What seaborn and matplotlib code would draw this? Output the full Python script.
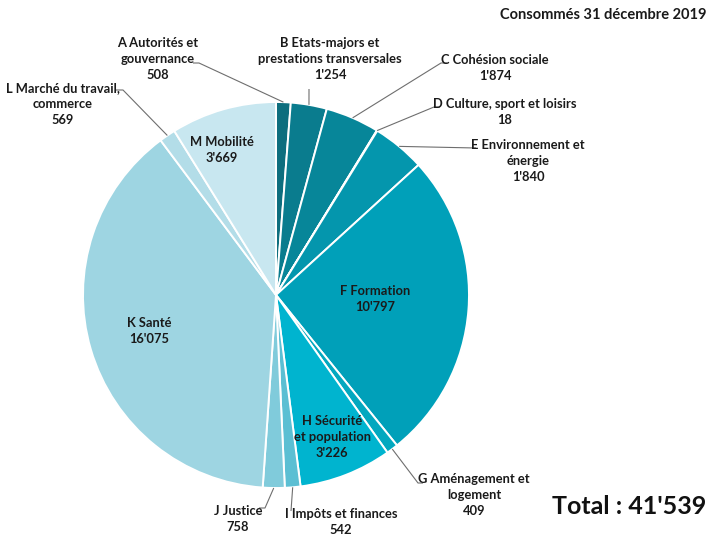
import matplotlib
matplotlib.use("Agg")
import matplotlib.pyplot as plt
import seaborn as sns
import numpy as np

# Budget consumed per policy area (thousands)
categories = [
    "A Autorités et\ngouvernance",
    "B Etats-majors et\nprestations transversales",
    "C Cohésion sociale",
    "D Culture, sport et loisirs",
    "E Environnement et\nénergie",
    "F Formation",
    "G Aménagement et\nlogement",
    "H Sécurité\net population",
    "I Impôts et finances",
    "J Justice",
    "K Santé",
    "L Marché du travail,\ncommerce",
    "M Mobilité",
]
values = [508, 1254, 1874, 18, 1840, 10797, 409, 3226, 542, 758, 16075, 569, 3669]
colors = [
    "#0d6e7e", "#0a7c8e", "#078699", "#0691a7", "#0496ad", "#00a0b9",
    "#03a8bf", "#00b4cf", "#5bbfd3", "#80cbdb", "#9ed5e2", "#b3dde8", "#c8e7f0",
]
title = "Consommés 31 décembre 2019"
total_label = "Total : "


def fmt(v):
    return f"{v:,}".replace(",", "'")


sns.set_theme(style="white")
plt.rcParams["font.family"] = ["Lato", "DejaVu Sans"]

W, H = 712, 535
fig = plt.figure(figsize=(W / 100, H / 100), dpi=100)
ax = fig.add_axes([0, 0, 1, 1])

cx, cy, R = 276, 295, 193
wedges, _ = ax.pie(
    values,
    colors=colors,
    startangle=270,
    counterclock=True,
    center=(cx, cy),
    radius=R,
    wedgeprops=dict(edgecolor="white", linewidth=1.4),
)
ax.set_xlim(0, W)
ax.set_ylim(H, 0)
ax.set_aspect("equal")
ax.axis("off")

fs = 9.3
ls = 1.42
line_col = "#6e6e6e"

# label placement: inside labels (x, y) or outside labels (x, y, leader path)
inside = {
    5: (375, 299),
    7: (332, 437),
    10: (149, 331),
    12: (222, 150),
}
outside = {
    0: ((158, 59), [(193, 63), (199, 63)]),
    1: ((330, 59), [(309, 89)]),
    2: ((495, 68), [(447, 63), (441, 63)]),
    3: ((505, 112), [(440, 107), (434, 107)]),
    4: ((528, 161), [(476, 148)]),
    6: ((474, 495), [(423, 483), (418, 483)]),
    8: ((341, 522), [(291, 511)]),
    9: ((238, 519), [(259, 508), (265, 508)]),
    11: ((63, 104), [(116, 90), (123, 90)]),
}

for i, w in enumerate(wedges):
    text = f"{categories[i]}\n{fmt(values[i])}"
    if i in inside:
        x, y = inside[i]
        ax.text(x, y, text, ha="center", va="center", fontsize=fs,
                fontweight="bold", color="#1a1a1a", linespacing=ls)
    else:
        (x, y), path = outside[i]
        ax.text(x, y, text, ha="center", va="center", fontsize=fs,
                fontweight="bold", color="#1a1a1a", linespacing=ls)
        mid = np.deg2rad((w.theta1 + w.theta2) / 2)
        ex = cx + R * np.cos(mid)
        ey = cy + R * np.sin(mid)
        pts = path + [(ex, ey)]
        ax.plot([p[0] for p in pts], [p[1] for p in pts], color=line_col,
                linewidth=0.8, solid_capstyle="butt")

ax.text(707, 15, title, ha="right", va="center", fontsize=10.5,
        fontweight="bold", color="#1a1a1a")
ax.text(706, 507, total_label + fmt(sum(values)), ha="right", va="center",
        fontsize=18, fontweight="bold", color="#111111")

fig.savefig("out.png", dpi=100)
